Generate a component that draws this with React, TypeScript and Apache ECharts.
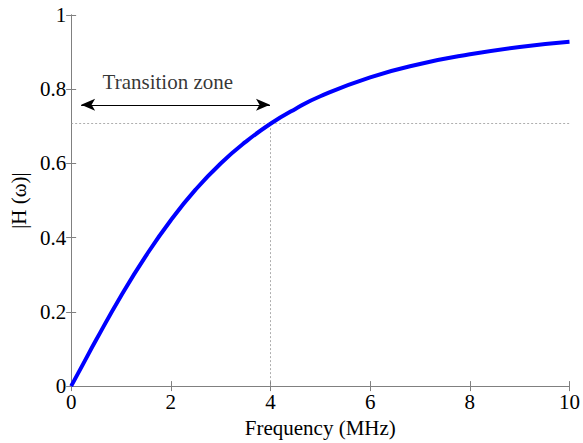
import React, { useEffect, useRef } from "react";
import * as echarts from "echarts";

const freq = [0, 0.25, 0.5, 1, 1.5, 2, 2.5, 3, 3.5, 4, 4.5, 5, 6, 7, 8, 9, 10];
const magnitude = [0, 0.062, 0.124, 0.243, 0.351, 0.447, 0.53, 0.6, 0.658, 0.707, 0.747, 0.781, 0.832, 0.868, 0.894, 0.914, 0.928];
const cutoffFreq = 4;
const cutoffMag = 0.707;
const arrowStart = [0.2, 0.758];
const arrowEnd = [3.99, 0.758];
const xTicks = [0, 2, 4, 6, 8, 10];
const yTicks = [0, 0.2, 0.4, 0.6, 0.8, 1];

const FONT = "'Liberation Serif', 'Times New Roman', serif";

export default function App() {
  const ref = useRef<HTMLDivElement>(null);
  useEffect(() => {
    const chart = echarts.init(ref.current!, null, { renderer: "svg" });
    const axisLine = { show: true, lineStyle: { color: "#808080", width: 1 } };
    const tick = { inside: true, length: 5, lineStyle: { color: "#808080" } };
    chart.setOption({
      animation: false,
      backgroundColor: "#ffffff",
      textStyle: { fontFamily: FONT, color: "#000" },
      grid: { left: 67, right: 12, top: 15, bottom: 52 },
      xAxis: [
        {
          type: "value",
          min: 0,
          max: 10,
          interval: 2,
          name: "Frequency (MHz)",
          nameLocation: "middle",
          nameGap: 30,
          nameTextStyle: { fontFamily: FONT, fontSize: 21, color: "#000" },
          axisLine,
          axisTick: tick,
          axisLabel: { fontFamily: FONT, fontSize: 21, color: "#000", margin: 5, formatter: (v: number) => (xTicks.includes(v) ? String(v) : "") },
          splitLine: { show: false },
        },
        {
          type: "value",
          position: "top",
          min: 0,
          max: 10,
          interval: 2,
          axisLine,
          axisTick: tick,
          axisLabel: { show: false },
          splitLine: { show: false },
        },
      ],
      yAxis: [
        {
          type: "value",
          min: 0,
          max: 1,
          interval: 0.2,
          name: "|H (ω)|",
          nameLocation: "middle",
          nameGap: 38,
          nameTextStyle: { fontFamily: FONT, fontSize: 21, color: "#000" },
          axisLine,
          axisTick: tick,
          axisLabel: { fontFamily: FONT, fontSize: 21, color: "#000", margin: 5, formatter: (v: number) => {
            const t = yTicks.find((y) => Math.abs(y - v) < 1e-6);
            return t === undefined ? "" : String(Math.round(t * 10) / 10);
          } },
          splitLine: { show: false },
        },
        {
          type: "value",
          position: "right",
          min: 0,
          max: 1,
          interval: 0.2,
          axisLine,
          axisTick: tick,
          axisLabel: { show: false },
          splitLine: { show: false },
        },
      ],
      series: [
        {
          type: "line",
          data: [],
          markLine: {
            silent: true,
            symbol: ["none", "none"],
            label: { show: false },
            lineStyle: { color: "#999999", width: 0.8, type: [2, 2] },
            data: [
              [{ coord: [0, cutoffMag] }, { coord: [10, cutoffMag] }],
              [{ coord: [cutoffFreq, 0] }, { coord: [cutoffFreq, cutoffMag] }],
            ],
          },
        },
        {
          type: "line",
          data: [],
          markLine: {
            silent: true,
            symbol: ["arrow", "arrow"],
            symbolSize: [9, 14],
            label: { show: false },
            lineStyle: { color: "#000", width: 1, type: "solid" },
            data: [[{ coord: arrowStart }, { coord: arrowEnd }]],
          },
        },
        {
          type: "line",
          data: freq.map((f, i) => [f, magnitude[i]]),
          smooth: true,
          showSymbol: false,
          lineStyle: { color: "#0000ff", width: 4 },
          z: 5,
        },
        {
          type: "scatter",
          data: [{ value: [1.94, 0.82] }],
          symbolSize: 0,
          label: {
            show: true,
            formatter: "Transition zone",
            position: "inside",
            fontFamily: FONT,
            fontSize: 21,
            color: "#000",
          },
        },
      ],
    });
    return () => chart.dispose();
  }, []);
  return <div ref={ref} style={{ position: "fixed", left: 0, top: 0, width: 583, height: 443 }} />;
}
